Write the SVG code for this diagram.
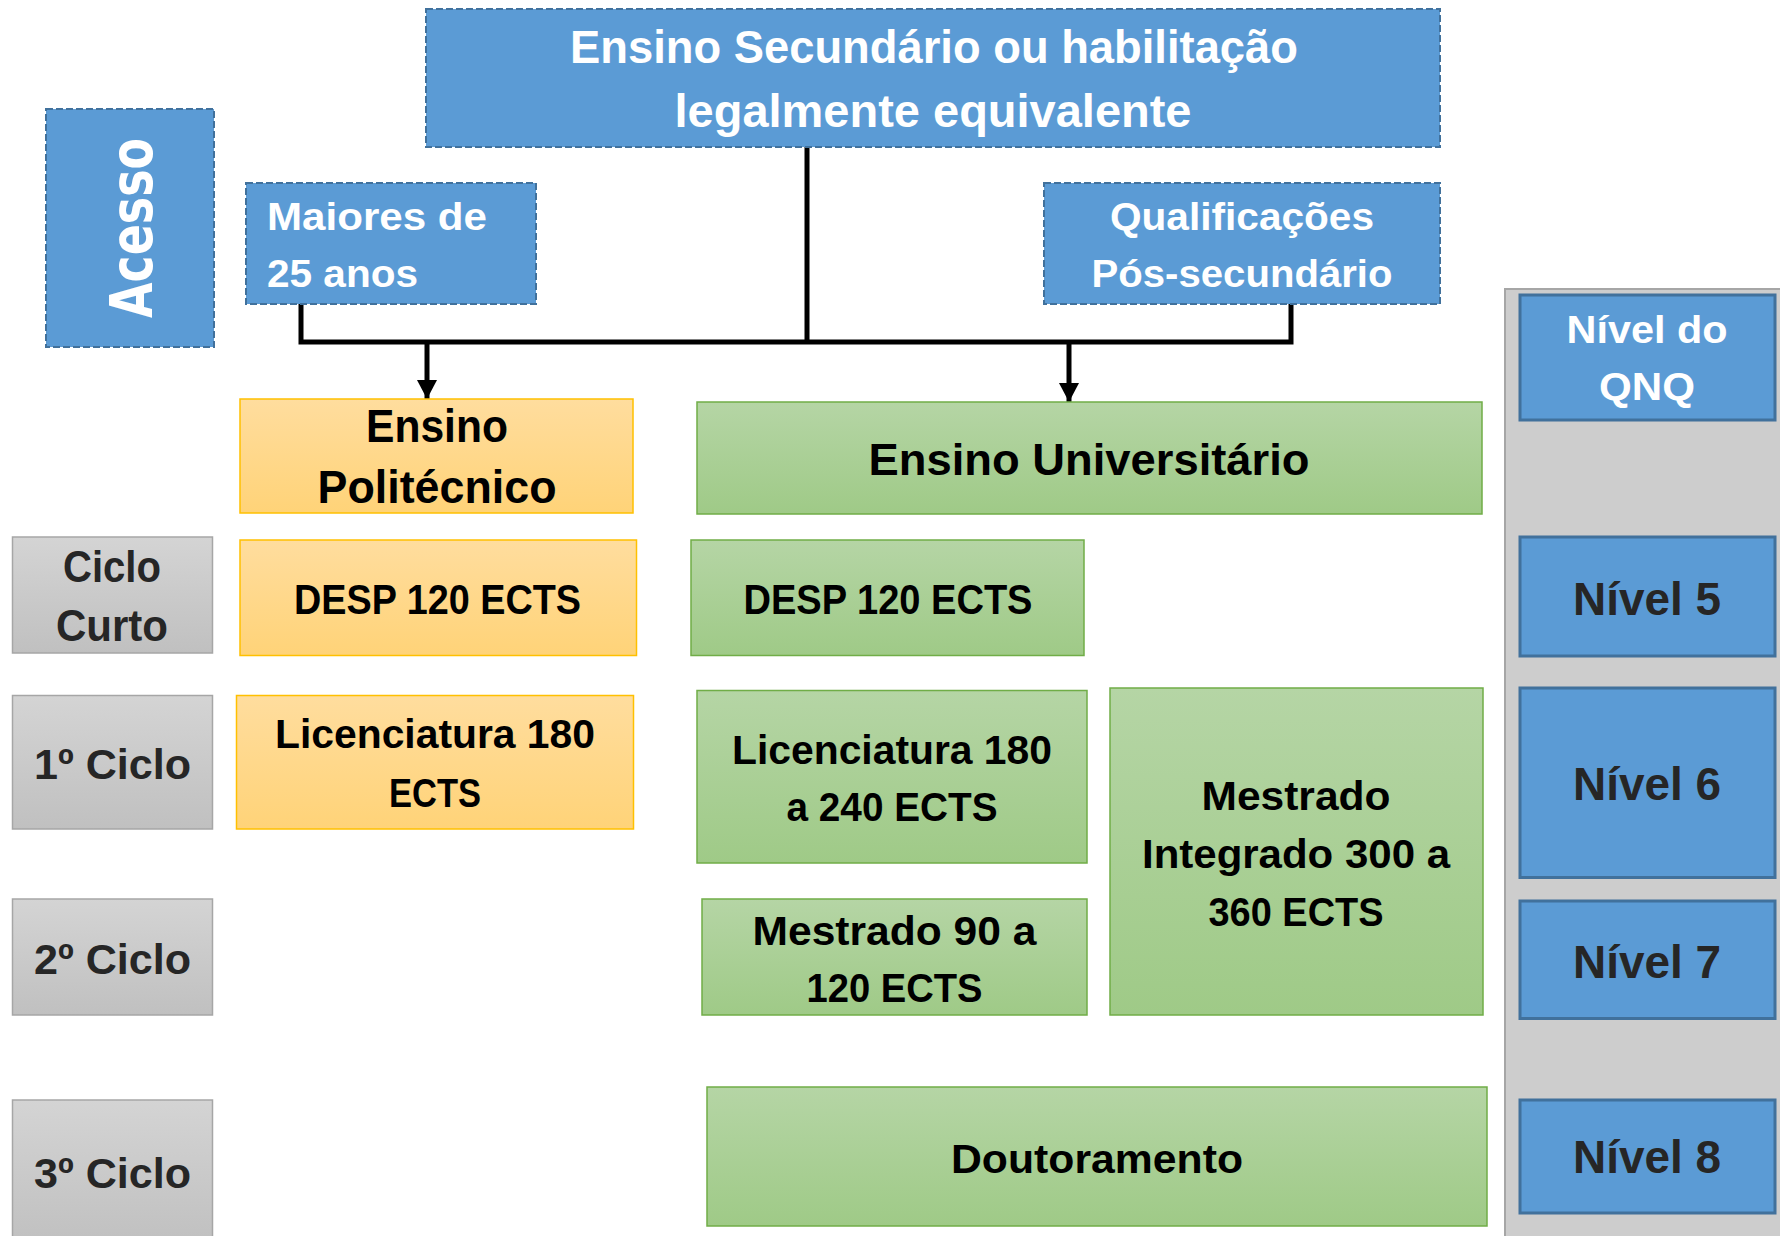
<svg xmlns="http://www.w3.org/2000/svg" width="1780" height="1236" viewBox="0 0 1780 1236">
<defs>
<linearGradient id="gGreen" x1="0" y1="0" x2="0" y2="1"><stop offset="0" stop-color="#B5D5A5"/><stop offset="1" stop-color="#9FCA87"/></linearGradient>
<linearGradient id="gOrange" x1="0" y1="0" x2="0" y2="1"><stop offset="0" stop-color="#FFDD9E"/><stop offset="1" stop-color="#FFD378"/></linearGradient>
<linearGradient id="gGray" x1="0" y1="0" x2="0" y2="1"><stop offset="0" stop-color="#D4D4D4"/><stop offset="1" stop-color="#C0C0C0"/></linearGradient>
<marker id="arr" markerUnits="userSpaceOnUse" markerWidth="20" markerHeight="20" viewBox="0 0 18 18" refX="17" refY="9" orient="auto"><path d="M0,0 L17,9 L0,18 Z" fill="#000"/></marker>
</defs>
<style>
.blueD{fill:#5B9BD5;stroke:#41719C;stroke-width:2;stroke-dasharray:7 3}
.blue{fill:#5B9BD5;stroke:#41719C;stroke-width:3}
.green{fill:url(#gGreen);stroke:#70AD47;stroke-width:1.5}
.orange{fill:url(#gOrange);stroke:#FFC000;stroke-width:1.5}
.gray{fill:url(#gGray);stroke:#A6A6A6;stroke-width:1.5}
.panel{fill:#CDCDCD;stroke:#A6A6A6;stroke-width:2}
text{font-family:"Liberation Sans",Arial,sans-serif;font-weight:bold;text-anchor:middle}
.w{fill:#FFFFFF}
.k{fill:#000000}
.d{fill:#262626}
.line{fill:none;stroke:#000;stroke-width:5;stroke-linejoin:miter}
</style>
<rect class="panel" x="1505" y="289" width="285" height="960"/>
<g id="connectors">
<path class="line" d="M301,303 V342 H1291 V303"/>
<path class="line" d="M807,147 V342" stroke-width="5.5"/>
<path class="line" d="M427,342 V399" marker-end="url(#arr)"/>
<path class="line" d="M1069,342 V402" marker-end="url(#arr)"/>
</g>
<g id="acesso">
<rect class="blueD" x="46" y="109" width="168" height="238"/>
<text class="w" transform="translate(152,228) rotate(-90)" x="0" y="0" style="font-family:'DejaVu Sans',Verdana,sans-serif" font-size="59" textLength="180" lengthAdjust="spacingAndGlyphs">Acesso</text>
</g>
<g id="secundario">
<rect class="blueD" x="426" y="9" width="1014" height="138"/>
<text class="w" x="934" y="63" font-size="46" textLength="728" lengthAdjust="spacingAndGlyphs">Ensino Secundário ou habilitação</text>
<text class="w" x="933" y="127" font-size="46" textLength="517" lengthAdjust="spacingAndGlyphs">legalmente equivalente</text>
</g>
<g id="maiores">
<rect class="blueD" x="246" y="183" width="290" height="121"/>
<text class="w" x="267" y="230" font-size="39" style="text-anchor:start" textLength="220" lengthAdjust="spacingAndGlyphs">Maiores de</text>
<text class="w" x="267" y="287" font-size="39" style="text-anchor:start" textLength="151" lengthAdjust="spacingAndGlyphs">25 anos</text>
</g>
<g id="qualificacoes">
<rect class="blueD" x="1044" y="183" width="396" height="121"/>
<text class="w" x="1242" y="230" font-size="39" textLength="264" lengthAdjust="spacingAndGlyphs">Qualificações</text>
<text class="w" x="1242" y="287" font-size="39" textLength="301" lengthAdjust="spacingAndGlyphs">Pós-secundário</text>
</g>
<g id="politecnico">
<rect class="orange" x="240" y="399" width="393" height="114"/>
<text class="k" x="437" y="442" font-size="46" textLength="142" lengthAdjust="spacingAndGlyphs">Ensino</text>
<text class="k" x="437" y="503" font-size="46" textLength="239" lengthAdjust="spacingAndGlyphs">Politécnico</text>
</g>
<g id="universitario">
<rect class="green" x="697" y="402" width="785" height="112"/>
<text class="k" x="1089" y="475" font-size="45" textLength="441" lengthAdjust="spacingAndGlyphs">Ensino Universitário</text>
</g>
<g id="qnq">
<rect class="blue" x="1520" y="295" width="255" height="125"/>
<text class="w" x="1647" y="343" font-size="39" textLength="161" lengthAdjust="spacingAndGlyphs">Nível do</text>
<text class="w" x="1647" y="400" font-size="39" textLength="96" lengthAdjust="spacingAndGlyphs">QNQ</text>
</g>
<g id="ciclo-curto">
<rect class="gray" x="12.5" y="537" width="200" height="116"/>
<text class="d" x="112" y="582" font-size="45" textLength="98" lengthAdjust="spacingAndGlyphs">Ciclo</text>
<text class="d" x="112" y="641" font-size="45" textLength="112" lengthAdjust="spacingAndGlyphs">Curto</text>
</g>
<g id="desp-poli">
<rect class="orange" x="240" y="540" width="396.5" height="115.5"/>
<text class="k" x="437.5" y="614" font-size="42" textLength="287" lengthAdjust="spacingAndGlyphs">DESP 120 ECTS</text>
</g>
<g id="desp-univ">
<rect class="green" x="691" y="540" width="393" height="115.5"/>
<text class="k" x="888" y="614" font-size="42" textLength="289" lengthAdjust="spacingAndGlyphs">DESP 120 ECTS</text>
</g>
<g id="nivel5">
<rect class="blue" x="1520" y="537" width="255" height="119"/>
<text class="d" x="1647" y="614.5" font-size="46" textLength="148" lengthAdjust="spacingAndGlyphs">Nível 5</text>
</g>
<g id="ciclo1">
<rect class="gray" x="12.5" y="695.5" width="200" height="133.5"/>
<text class="d" x="112.5" y="779" font-size="43" textLength="157" lengthAdjust="spacingAndGlyphs">1º Ciclo</text>
</g>
<g id="lic-poli">
<rect class="orange" x="236.5" y="695.5" width="397" height="133.5"/>
<text class="k" x="435" y="748" font-size="41" textLength="320" lengthAdjust="spacingAndGlyphs">Licenciatura 180</text>
<text class="k" x="435" y="807" font-size="41" textLength="92" lengthAdjust="spacingAndGlyphs">ECTS</text>
</g>
<g id="lic-univ">
<rect class="green" x="697" y="690.5" width="390" height="172.5"/>
<text class="k" x="892" y="764" font-size="41" textLength="320" lengthAdjust="spacingAndGlyphs">Licenciatura 180</text>
<text class="k" x="892" y="821" font-size="41" textLength="211" lengthAdjust="spacingAndGlyphs">a 240 ECTS</text>
</g>
<g id="mestrado-integrado">
<rect class="green" x="1110" y="688" width="373" height="327"/>
<text class="k" x="1296" y="810" font-size="41" textLength="189" lengthAdjust="spacingAndGlyphs">Mestrado</text>
<text class="k" x="1296" y="868" font-size="41" textLength="308" lengthAdjust="spacingAndGlyphs">Integrado 300 a</text>
<text class="k" x="1296" y="925.5" font-size="41" textLength="175" lengthAdjust="spacingAndGlyphs">360 ECTS</text>
</g>
<g id="nivel6">
<rect class="blue" x="1520" y="688" width="255" height="189.5"/>
<text class="d" x="1647" y="799.5" font-size="46" textLength="148" lengthAdjust="spacingAndGlyphs">Nível 6</text>
</g>
<g id="ciclo2">
<rect class="gray" x="12.5" y="899" width="200" height="116"/>
<text class="d" x="112.5" y="974" font-size="43" textLength="157" lengthAdjust="spacingAndGlyphs">2º Ciclo</text>
</g>
<g id="mestrado">
<rect class="green" x="702" y="899" width="385" height="116"/>
<text class="k" x="894.5" y="945" font-size="41" textLength="284" lengthAdjust="spacingAndGlyphs">Mestrado 90 a</text>
<text class="k" x="894.5" y="1002" font-size="41" textLength="176" lengthAdjust="spacingAndGlyphs">120 ECTS</text>
</g>
<g id="nivel7">
<rect class="blue" x="1520" y="901" width="255" height="117.5"/>
<text class="d" x="1647" y="977.5" font-size="46" textLength="148" lengthAdjust="spacingAndGlyphs">Nível 7</text>
</g>
<g id="ciclo3">
<rect class="gray" x="12.5" y="1100" width="200" height="145"/>
<text class="d" x="112.5" y="1188" font-size="43" textLength="157" lengthAdjust="spacingAndGlyphs">3º Ciclo</text>
</g>
<g id="doutoramento">
<rect class="green" x="707" y="1087" width="780" height="139"/>
<text class="k" x="1097" y="1173" font-size="41" textLength="292" lengthAdjust="spacingAndGlyphs">Doutoramento</text>
</g>
<g id="nivel8">
<rect class="blue" x="1520" y="1100" width="255" height="113"/>
<text class="d" x="1647" y="1173" font-size="46" textLength="148" lengthAdjust="spacingAndGlyphs">Nível 8</text>
</g>
</svg>
